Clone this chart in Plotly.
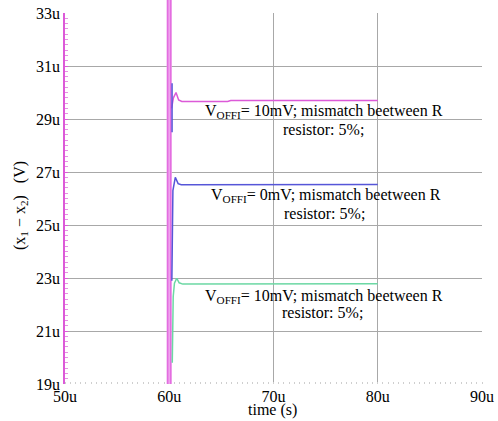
import plotly.graph_objects as go

# ---- data (time in µs, voltage in µV) ----
x_ticks = [50, 60, 70, 80, 90]
x_ticktext = ["50u", "60u", "70u", "80u", "90u"]
y_ticks = [19, 21, 23, 25, 27, 29, 31, 33]
y_ticktext = ["19u", "21u", "23u", "25u", "27u", "29u", "31u", "33u"]

spike_t = [59.85, 59.85, None, 60.13, 60.13]
spike_v = [40, 10, None, 40, 10]

mag_t = [60.22, 60.4, 60.65, 60.9, 61.2, 65.6, 65.9, 80]
mag_v = [29.4, 29.8, 30.0, 29.72, 29.66, 29.66, 29.70, 29.70]

blue_t = [60.27, 60.27, None, 60.25, 60.27, 60.29, 60.35, 60.58, 60.85, 61.15, 80]
blue_v = [30.35, 28.5, None, 22.9, 24.0, 25.2, 26.3, 26.8, 26.56, 26.52, 26.53]

green_t = [60.29, 60.31, 60.38, 60.5, 60.72, 60.95, 61.3, 80]
green_v = [19.8, 21.3, 22.3, 22.8, 22.99, 22.82, 22.77, 22.78]

labels = [
    ("V<sub>OFFI</sub>= 10mV; mismatch beetween R", 74.81, 29.3),
    ("resistor: 5%;", 74.81, 28.62),
    ("V<sub>OFFI</sub>= 0mV; mismatch beetween R", 75.0, 26.1),
    ("resistor: 5%;", 74.9, 25.42),
    ("V<sub>OFFI</sub>= 10mV; mismatch beetween R", 74.8, 22.3),
    ("resistor: 5%;", 74.7, 21.68),
]

W, H = 498, 421
L, R, T, B = 65, 16, 0, 37
plot_h = H - T - B
top_px = 13
main_top = (plot_h - top_px) / plot_h
px_per_u = (plot_h - top_px) / (33 - 19)
y2_top = 33 + top_px / px_per_u

FONT = "Liberation Serif, Times New Roman, serif"
MAG = "#dc5ad8"

fig = go.Figure()
# invisible trace to anchor the main axes
fig.add_trace(go.Scatter(x=[50, 90], y=[19, 33], mode="markers",
                         marker=dict(opacity=0), showlegend=False, hoverinfo="skip"))
# pink spike band (drawn on the extended overlay axes)
fig.add_trace(go.Scatter(x=[60.0, 60.0], y=[40, 10], mode="lines",
                         line=dict(color="#f4b8f2", width=5), xaxis="x2", yaxis="y2",
                         showlegend=False, hoverinfo="skip"))
fig.add_trace(go.Scatter(x=spike_t, y=spike_v, mode="lines",
                         line=dict(color="#e36ee0", width=1.8), xaxis="x2", yaxis="y2",
                         showlegend=False))
fig.add_trace(go.Scatter(x=mag_t, y=mag_v, mode="lines",
                         line=dict(color=MAG, width=1.5), xaxis="x2", yaxis="y2",
                         showlegend=False))
fig.add_trace(go.Scatter(x=blue_t, y=blue_v, mode="lines",
                         line=dict(color="#5656d8", width=1.5), xaxis="x2", yaxis="y2",
                         showlegend=False))
fig.add_trace(go.Scatter(x=green_t, y=green_v, mode="lines",
                         line=dict(color="#6cd8a4", width=1.5), xaxis="x2", yaxis="y2",
                         showlegend=False))

for text, tx, ty in labels:
    fig.add_annotation(x=tx, y=ty, xref="x", yref="y", text=text, showarrow=False,
                       font=dict(family=FONT, size=16, color="black"),
                       xanchor="center", yanchor="middle")

fig.add_annotation(x=(272 - L) / (W - L - R), y=-(410 - plot_h) / plot_h, xref="paper", yref="paper",
                   text="time (s)", showarrow=False, font=dict(family=FONT, size=16, color="black"),
                   xanchor="center", yanchor="middle")
fig.add_annotation(x=(21 - L) / (W - L - R), y=(plot_h - 206) / plot_h, xref="paper", yref="paper",
                   text="(x<sub>1</sub> − x<sub>2</sub>)   (V)", textangle=-90, showarrow=False,
                   font=dict(family=FONT, size=16, color="black"),
                   xanchor="center", yanchor="middle")

fig.update_layout(
    width=W, height=H,
    margin=dict(l=L, r=R, t=T, b=B, autoexpand=False),
    paper_bgcolor="white", plot_bgcolor="rgba(0,0,0,0)",
    font=dict(family=FONT, size=16, color="black"),
    showlegend=False,
    xaxis=dict(range=[50, 90], tickvals=x_ticks, ticktext=x_ticktext, showgrid=True,
               gridcolor="#a8a8a8", gridwidth=1.2, zeroline=False, showline=False,
               ticks="", ticklabelstandoff=1, tickfont=dict(family=FONT, size=16, color="black"),
               minor=dict(dtick=0.5, ticks="inside", ticklen=2, tickcolor="#cfcfcf", showgrid=False),
               domain=[0, 1], anchor="y"),
    yaxis=dict(range=[19, 33], tickvals=y_ticks, ticktext=y_ticktext, showgrid=True,
               gridcolor="#a8a8a8", gridwidth=1.2, zeroline=False, showline=True,
               linecolor=MAG, linewidth=1.5, ticks="inside", ticklen=3, tickcolor=MAG,
               tickfont=dict(family=FONT, size=16, color="black"),
               minor=dict(dtick=0.2, ticks="inside", ticklen=3, tickcolor="#e690e4", showgrid=False),
               domain=[0, main_top], anchor="x"),
    xaxis2=dict(range=[50, 90], visible=False, domain=[0, 1], anchor="y2"),
    yaxis2=dict(range=[19, y2_top], visible=False, domain=[0, 1], anchor="x2"),
)

fig.write_html("out.html", config={"displayModeBar": False},
               post_script="document.body.style.margin='0';")
